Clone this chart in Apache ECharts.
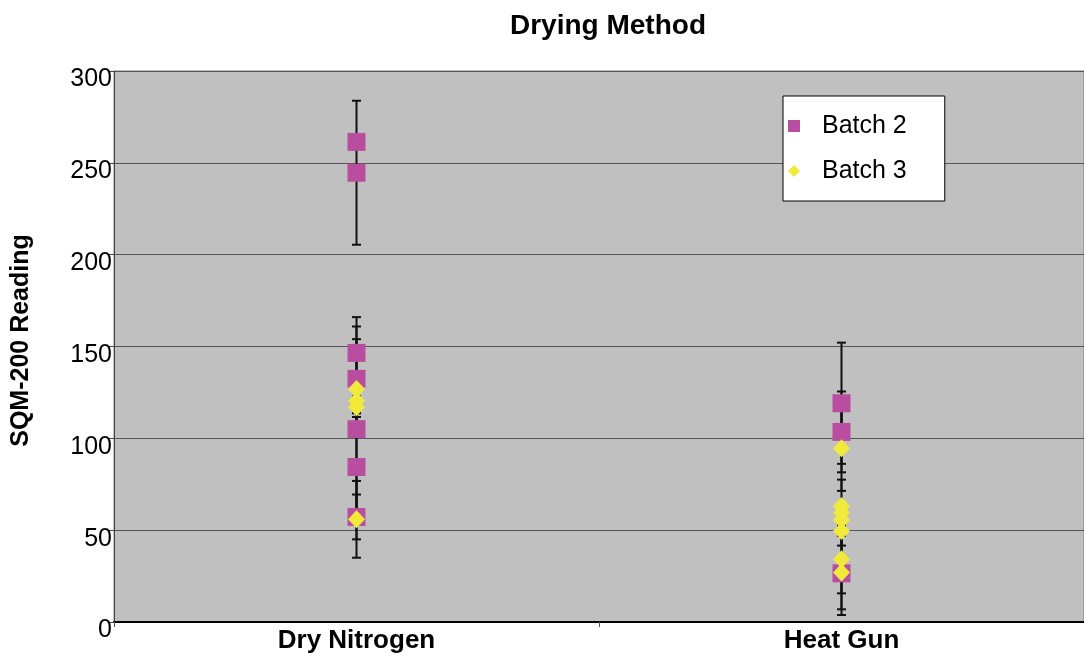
<!DOCTYPE html>
<html>
<head>
<meta charset="utf-8">
<script src="https://cdn.jsdelivr.net/npm/echarts@6/dist/echarts.min.js"></script>
<style>
html,body{margin:0;padding:0;background:#fff;}
#chart{width:1084px;height:656px;}
</style>
</head>
<body>
<div id="chart"></div>
<script>
const categories = ['Dry Nitrogen', 'Heat Gun'];
const yTicks = [0, 50, 100, 150, 200, 250, 300];

const batch2Cat    = [0, 0, 0, 0, 0, 0, 0, 1, 1, 1];
const batch2Values = [261.4, 244.6, 146.5, 132.4, 105.0, 84.4, 57.2, 119.1, 103.5, 26.5];
const batch2Err    = [4, 39.2, 19.5, 28.5, 49.0, 27.2, 12.2, 33.0, 22.0, 22.7];

const batch3Cat    = [0, 0, 0, 0, 1, 1, 1, 1, 1, 1, 1];
const batch3Values = [126.9, 120.5, 116.9, 55.9, 94.6, 63.2, 59.5, 55.6, 49.6, 34.2, 26.9];
const batch3Err    = [4, 6.9, 3, 20.9, 23.2, 14.3, 4, 4, 8, 18.6, 20.0];

const font = 'Liberation Sans, Arial, sans-serif';

function pts(cats, vals) { return vals.map((v, i) => [cats[i], v]); }
function errs(cats, vals, e) { return vals.map((v, i) => [cats[i], v - e[i], v + e[i]]); }

const errData = errs(batch2Cat, batch2Values, batch2Err).concat(errs(batch3Cat, batch3Values, batch3Err));

const chart = echarts.init(document.getElementById('chart'), null, {renderer: 'canvas'});
chart.setOption({
  backgroundColor: '#ffffff',
  animation: false,
  title: {
    text: 'Drying Method',
    left: 505, top: 7,
    textStyle: {fontFamily: font, fontSize: 28, fontWeight: 'bold', color: '#000'}
  },
  legend: {
    orient: 'vertical',
    left: 783, top: 96,
    data: ['Batch 2', 'Batch 3'],
    backgroundColor: '#ffffff',
    borderColor: '#000', borderWidth: 1, borderRadius: 0,
    padding: [15, 38, 15, 5],
    itemWidth: 12, itemHeight: 12, itemGap: 15,
    textStyle: {fontFamily: font, fontSize: 25, color: '#000', lineHeight: 30, padding: [0, 0, 0, 17]}
  },
  grid: {left: 114, top: 71, right: -4, bottom: 34, show: true, backgroundColor: '#c0c0c0', borderColor: '#808080', borderWidth: 1},
  xAxis: {
    type: 'category',
    data: categories,
    boundaryGap: true,
    axisLine: {lineStyle: {color: '#000', width: 2}},
    axisTick: {show: true, length: 5, lineStyle: {color: '#555'}},
    axisLabel: {fontFamily: font, fontSize: 26, fontWeight: 'bold', color: '#000', margin: 6},
    splitLine: {show: false}
  },
  yAxis: {
    type: 'value',
    min: yTicks[0], max: yTicks[yTicks.length - 1], interval: 50,
    name: 'SQM-200 Reading',
    nameLocation: 'middle', nameGap: 80, nameRotate: 90,
    nameTextStyle: {fontFamily: font, fontSize: 25, fontWeight: 'bold', color: '#000', padding: [0, 0, 0, 12]},
    axisLine: {show: true, lineStyle: {color: '#444', width: 1}},
    axisTick: {show: true, length: 5, lineStyle: {color: '#444'}},
    axisLabel: {fontFamily: font, fontSize: 25, color: '#000', margin: 2, verticalAlign: 'top', lineHeight: 17},
    splitLine: {show: true, lineStyle: {color: '#555', width: 1}}
  },
  series: [
    {
      type: 'custom',
      z: 1,
      silent: true,
      data: errData,
      encode: {x: 0, y: [1, 2]},
      renderItem: function (params, api) {
        const x = api.value(0);
        const lo = api.coord([x, api.value(1)]);
        const hi = api.coord([x, api.value(2)]);
        const hw = 4.5;
        const style = {stroke: '#111', lineWidth: 2};
        return {
          type: 'group',
          children: [
            {type: 'line', shape: {x1: lo[0], y1: lo[1], x2: hi[0], y2: hi[1]}, style: style},
            {type: 'line', shape: {x1: lo[0] - hw, y1: lo[1], x2: lo[0] + hw, y2: lo[1]}, style: style},
            {type: 'line', shape: {x1: hi[0] - hw, y1: hi[1], x2: hi[0] + hw, y2: hi[1]}, style: style}
          ]
        };
      }
    },
    {
      name: 'Batch 2',
      type: 'scatter',
      z: 2,
      symbol: 'rect',
      symbolSize: 18,
      itemStyle: {color: '#b94ea0', opacity: 1},
      data: pts(batch2Cat, batch2Values)
    },
    {
      name: 'Batch 3',
      type: 'scatter',
      z: 3,
      symbol: 'diamond',
      symbolSize: [17, 18],
      itemStyle: {color: '#f2ea3a', opacity: 1},
      data: pts(batch3Cat, batch3Values)
    }
  ]
});
</script>
</body>
</html>
